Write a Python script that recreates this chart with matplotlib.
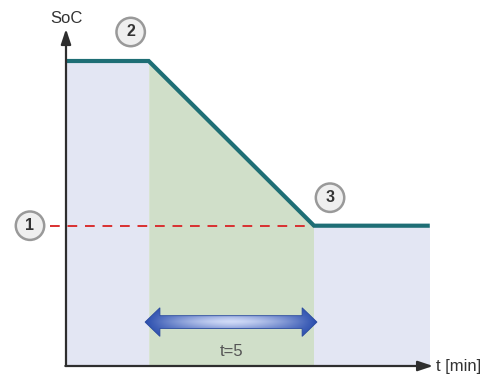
import numpy as np
import matplotlib
matplotlib.use("Agg")
import matplotlib.pyplot as plt
from matplotlib.patches import Polygon

plt.rcParams["font.family"] = ["Liberation Sans", "DejaVu Sans"]

# ---- data ----
t = [0, 2.5, 7.5, 11]          # minutes
soc = [100, 100, 46, 46]        # state of charge (%)
threshold = 46
duration_label = "t=5"
markers = ["1", "2", "3"]

fig = plt.figure(figsize=(4.86, 3.75), dpi=100)
ax = fig.add_axes([0, 0, 1, 1])
ax.set_xlim(-66 / 33.07, 420 / 33.07)
ax.set_ylim(-9 / 3.05, 366 / 3.05)
ax.axis("off")

blue_fill = "#e3e6f3"
green_fill = "#d0dfc9"
teal = "#1e6e75"

# fills
ax.fill_between(t[0:2], 0, soc[0:2], color=blue_fill, lw=0, zorder=1)
ax.fill_between(t[1:3], 0, soc[1:3], color=green_fill, lw=0, zorder=1)
ax.fill_between(t[2:4], 0, soc[2:4], color=blue_fill, lw=0, zorder=1)

# SoC line
ax.plot(t, soc, color=teal, lw=3.0, solid_capstyle="butt", solid_joinstyle="miter", zorder=4)

# threshold dashed line
ax.plot([-16 / 33.07, t[2]], [threshold, threshold], color="#d93030", lw=1.4,
        dashes=(5, 4), zorder=3)

# axes arrows
axis_col = "#2e2e2e"
ax.annotate("", xy=(0, 110.5), xytext=(0, 0),
            arrowprops=dict(arrowstyle="-|>,head_length=0.9,head_width=0.3", color=axis_col, lw=1.6,
                            shrinkA=0, shrinkB=0), zorder=5)
ax.annotate("", xy=(11.1, 0), xytext=(-0.02, 0),
            arrowprops=dict(arrowstyle="-|>,head_length=0.9,head_width=0.3", color=axis_col, lw=1.6,
                            shrinkA=0, shrinkB=0), zorder=5)
ax.text(0, 114.0, "SoC", ha="center", va="center", fontsize=12, color="#333333")
ax.text(11.2, 0, "t [min]", ha="left", va="center", fontsize=12, color="#333333")

# double arrow with gradient
x0, x1 = t[1] - 0.11, t[2] + 0.09
yc = 14.4
sh, hh, hl = 2.1, 4.7, 0.45
verts = [(x0, yc), (x0 + hl, yc + hh), (x0 + hl, yc + sh), (x1 - hl, yc + sh),
         (x1 - hl, yc + hh), (x1, yc), (x1 - hl, yc - hh), (x1 - hl, yc - sh),
         (x0 + hl, yc - sh), (x0 + hl, yc - hh)]
poly = Polygon(verts, closed=True, facecolor="none", edgecolor="none", zorder=5)
ax.add_patch(poly)
nx, ny = 200, 60
gx = np.linspace(-1, 1, nx)
gy = np.linspace(-1, 1, ny)
GX, GY = np.meshgrid(gx, gy)
light = (1 - np.abs(GY) ** 1.3) * (1 - np.abs(GX) ** 1.6)
dark = np.array([0.16, 0.30, 0.68])
lite = np.array([0.82, 0.86, 0.97])
img = dark[None, None, :] + (lite - dark)[None, None, :] * light[:, :, None]
im = ax.imshow(img, extent=(x0, x1, yc - hh, yc + hh), aspect="auto", zorder=5,
               interpolation="bilinear")
im.set_clip_path(poly)
ax.add_patch(Polygon(verts, closed=True, facecolor="none", edgecolor="#2a4a9e", lw=0.6, zorder=6))
ax.text((t[1] + t[2]) / 2, 4.6, duration_label, ha="center", va="center",
        fontsize=12, color="#555555", zorder=6)

# numbered circles
def badge(label, xy, offset):
    ax.annotate(label, xy=xy, xytext=offset, textcoords="offset pixels",
                ha="center", va="center", fontsize=11.5, fontweight="bold", color="#333333",
                bbox=dict(boxstyle="circle,pad=0.42", fc="#efefef", ec="#999999", lw=1.8),
                zorder=8)

badge(markers[0], (0, threshold), (-36, 0))
badge(markers[1], (t[1], soc[1]), (-18, 29))
badge(markers[2], (t[2], soc[2]), (16, 28))

fig.savefig("out.png", dpi=100)
